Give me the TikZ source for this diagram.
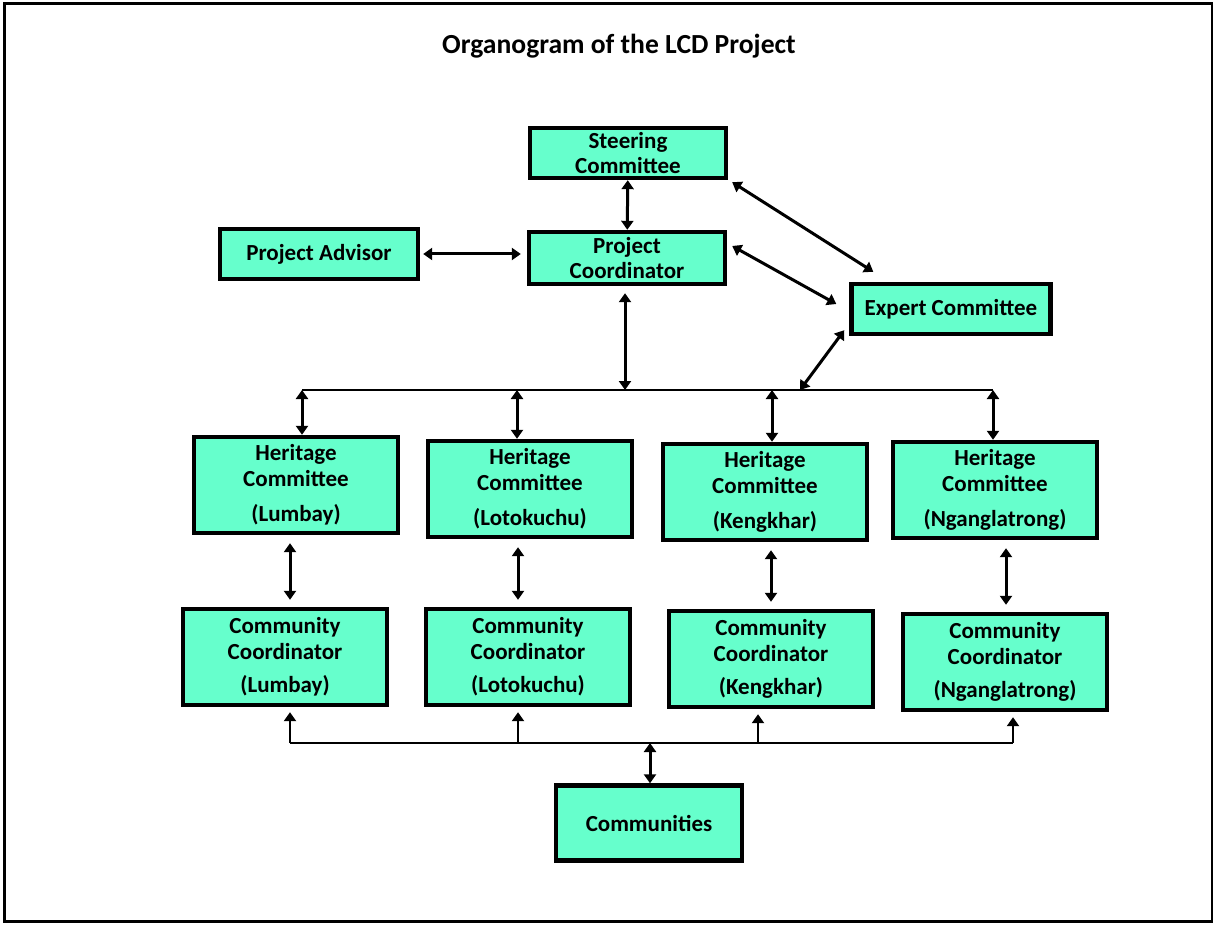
\documentclass[tikz,border=0pt]{standalone}
\usepackage{fontspec}
\setmainfont{Carlito}
\usepackage{xcolor}
\usetikzlibrary{arrows.meta}
\definecolor{unit-green}{HTML}{66FFCC}

\begin{document}
\begin{tikzpicture}[x=0.5pt, y=-0.5pt,
    every node/.style={font=\bfseries\fontsize{11.5}{12.8}\selectfont},
    unit/.style={draw, line width=2.2pt, fill=unit-green, align=center, inner sep=0.5pt},
    branch/.style={unit, minimum width=102pt, minimum height=48pt},
    link/.style={{Triangle[width=6pt,length=4.5pt]}-{Triangle[width=6pt,length=4.5pt]}, line width=1.5pt},
    uplink/.style={-{Triangle[width=6pt,length=4.5pt]}, line width=1.2pt},
    bus/.style={line width=0.9pt}]
    % Organisation chart, drawn in pixel-like units (y grows downwards).
    % Coordinates: (x, y)
    %   page 1215 x 925, framed
    %   top rows: steering (628,153), advisor (319,254), coordinator (627,258), expert (951,309)
    %   upper bus y=390 from x=302 to x=993
    %   heritage row near y=490, community row near y=660
    %   lower bus y=743 from x=290 to x=1013, communities at (649,823)
    \useasboundingbox (0,0) rectangle (1215,925);
    \draw[line width=1.3pt] (4.5,3.5) rectangle (1212,921.5);

    \node[font=\bfseries\fontsize{13.8}{16}\selectfont] (title) at (619,46)
          {Organogram of the LCD Project};

    % management
    \node[unit, minimum width=98pt, minimum height=25pt] (steer) at (628,153)
          {Steering\\Committee};
    \node[unit, minimum width=99pt, minimum height=25pt] (advisor) at (319,254)
          {Project Advisor};
    \node[unit, minimum width=98pt, minimum height=26pt] (coord) at (627,258)
          {Project\\Coordinator};
    \node[unit, minimum width=99.5pt, minimum height=25pt] (expert) at (951,309)
          {Expert Committee};

    % heritage committees
    \node[branch] (h1) at (296,485) {Heritage\\Committee\\[5pt](Lumbay)};
    \node[branch] (h2) at (530,489) {Heritage\\Committee\\[5pt](Lotokuchu)};
    \node[branch] (h3) at (765,492) {Heritage\\Committee\\[5pt](Kengkhar)};
    \node[branch] (h4) at (995,490) {Heritage\\Committee\\[5pt](Nganglatrong)};

    % community coordinators
    \node[branch] (c1) at (285,657) {Community\\Coordinator\\[4pt](Lumbay)};
    \node[branch] (c2) at (528,657) {Community\\Coordinator\\[4pt](Lotokuchu)};
    \node[branch] (c3) at (771,659) {Community\\Coordinator\\[4pt](Kengkhar)};
    \node[branch] (c4) at (1005,662) {Community\\Coordinator\\[4pt](Nganglatrong)};

    \node[unit, minimum width=93pt, minimum height=37.5pt] (comm) at (649,823)
          {Communities};

    % links between the top boxes
    \draw[link] (steer) -- (coord);
    \draw[link, shorten <=1.5pt, shorten >=3pt] (advisor.east) -- (advisor.east -| coord.west);
    \draw[link] ([shift={(2pt,-1pt)}]steer.south east) -- ([shift={(12pt,5pt)}]expert.north west);
    \draw[link] ([shift={(2.5pt,6pt)}]coord.east) -- ([shift={(-6.5pt,2.5pt)}]expert.west);

    % upper bus
    \coordinate (hub) at (625,390);
    \coordinate (tap) at (800,390);
    \coordinate (b1) at (302,390);
    \coordinate (b2) at (517,390);
    \coordinate (b3) at (772,390);
    \coordinate (b4) at (993,390);
    \draw[bus] (b1) -- (b4);
    \draw[link, shorten <=3.5pt] (coord.south -| hub) -- (hub);
    \draw[link] ([shift={(-2.5pt,3pt)}]expert.south west) -- (tap);
    \draw[link] (b1) -- (b1 |- h1.north);
    \draw[link] (b2) -- (b2 |- h2.north);
    \draw[link] (b3) -- (b3 |- h3.north);
    \draw[link] (b4) -- (b4 |- h4.north);

    % heritage committee to community coordinator
    \draw[link, shorten <=4pt, shorten >=3.5pt] ([xshift=-3pt]h1.south) -- ([xshift=-3pt]h1.south |- c1.north);
    \draw[link, shorten <=4pt, shorten >=3.5pt] ([xshift=-6pt]h2.south) -- ([xshift=-6pt]h2.south |- c2.north);
    \draw[link, shorten <=4pt, shorten >=3.5pt] ([xshift=3pt]h3.south) -- ([xshift=3pt]h3.south |- c3.north);
    \draw[link, shorten <=4pt, shorten >=3.5pt] ([xshift=5.5pt]h4.south) -- ([xshift=5.5pt]h4.south |- c4.north);

    % lower bus
    \coordinate (d1) at (290,743);
    \coordinate (d2) at (518,743);
    \coordinate (d3) at (758,743);
    \coordinate (d4) at (1013,743);
    \coordinate (drop) at (650,743);
    \draw[bus] (d1) -- (d4);
    \draw[uplink, shorten >=2.5pt] (d1) -- (d1 |- c1.south);
    \draw[uplink, shorten >=2.5pt] (d2) -- (d2 |- c2.south);
    \draw[uplink, shorten >=2.5pt] (d3) -- (d3 |- c3.south);
    \draw[uplink, shorten >=2.5pt] (d4) -- (d4 |- c4.south);
    \draw[link] (drop) -- (drop |- comm.north);
\end{tikzpicture}
\end{document}
